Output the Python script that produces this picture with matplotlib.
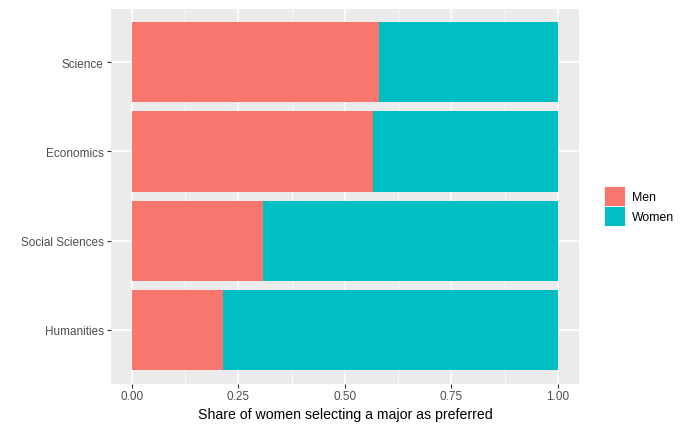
import matplotlib
matplotlib.use("Agg")
import matplotlib.pyplot as plt
from matplotlib.patches import Patch

MAJORS = ["Science", "Economics", "Social Sciences", "Humanities"]
MEN_SHARE = [0.580, 0.567, 0.308, 0.214]
WOMEN_SHARE = [0.420, 0.433, 0.692, 0.786]
X_TICKS = [0.0, 0.25, 0.5, 0.75, 1.0]
X_TICK_LABELS = ["0.00", "0.25", "0.50", "0.75", "1.00"]

MEN_COLOR = "#F8766D"
WOMEN_COLOR = "#00BFC4"
PANEL_BG = "#EBEBEB"
TEXT_GREY = "#4D4D4D"

plt.rcParams["font.family"] = ["Liberation Sans", "DejaVu Sans"]

fig = plt.figure(figsize=(6.84, 4.27), dpi=100)
ax = fig.add_axes([0.1618, 0.0995, 0.685, 0.878])
ax.set_facecolor(PANEL_BG)

positions = list(range(len(MAJORS)))
ax.barh(positions, MEN_SHARE, height=0.9, color=MEN_COLOR, zorder=3)
ax.barh(positions, WOMEN_SHARE, left=MEN_SHARE, height=0.9, color=WOMEN_COLOR, zorder=3)

ax.set_xlim(-0.05, 1.05)
ax.set_ylim(len(MAJORS) - 0.4, -0.6)

ax.set_xticks(X_TICKS)
ax.set_xticklabels(X_TICK_LABELS)
ax.set_xticks([0.125, 0.375, 0.625, 0.875], minor=True)
ax.set_yticks(positions)
ax.set_yticklabels(MAJORS)

ax.grid(True, which="major", color="white", linewidth=1.1, zorder=0)
ax.grid(True, which="minor", axis="x", color="white", linewidth=0.55, zorder=0)
ax.set_axisbelow(True)

for spine in ax.spines.values():
    spine.set_visible(False)

ax.tick_params(axis="both", which="major", length=3, width=0.8, color="#333333",
               labelsize=8.5, labelcolor=TEXT_GREY, pad=2)
ax.tick_params(axis="x", which="minor", length=0)

ax.set_xlabel("Share of women selecting a major as preferred", fontsize=10.2,
              color="black", labelpad=3)

handles = [Patch(facecolor=MEN_COLOR, edgecolor="white", linewidth=0.6, label="Men"),
           Patch(facecolor=WOMEN_COLOR, edgecolor="white", linewidth=0.6, label="Women")]
fig.legend(handles=handles, loc="center left", bbox_to_anchor=(0.876, 0.515),
           frameon=False, handlelength=1.7, handleheight=2.1, labelspacing=0.0,
           handletextpad=0.6, fontsize=8.8, borderaxespad=0)

fig.savefig("out.png", dpi=100)
